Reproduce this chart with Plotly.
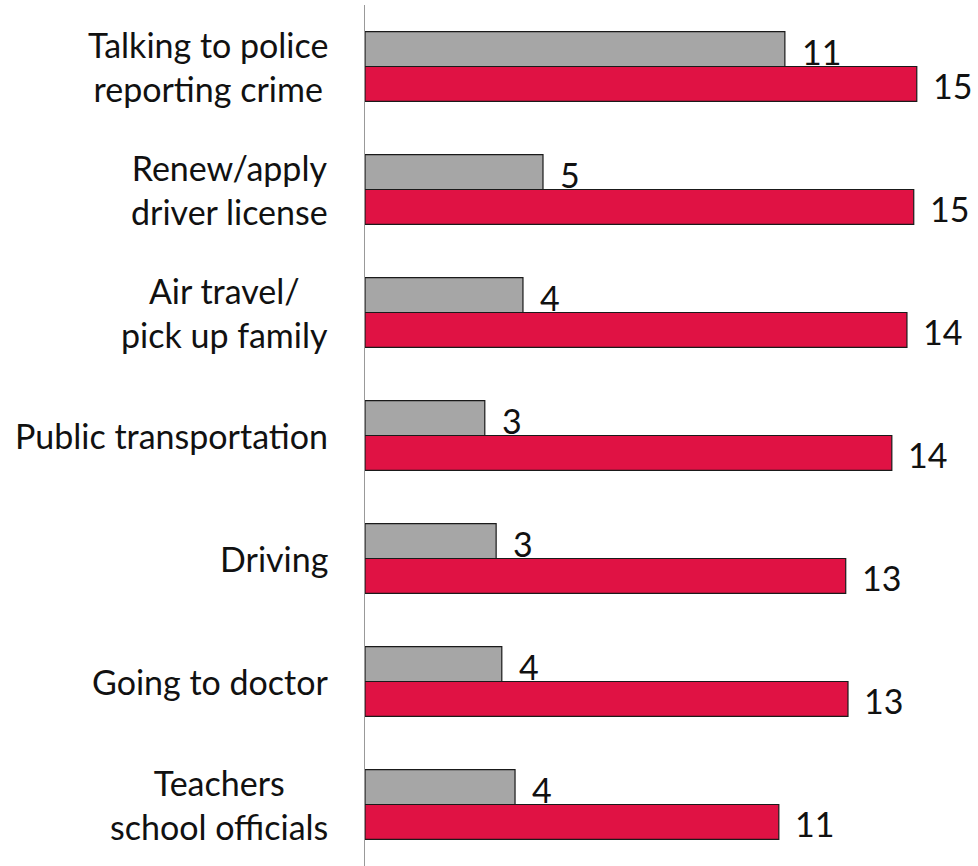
import plotly.graph_objects as go

categories = [
    "Talking to police<br>reporting crime",
    "Renew/apply<br>driver license",
    "Air travel/<br>pick up family",
    "Public transportation",
    "Driving",
    "Going to doctor",
    "Teachers<br>school officials",
]
gray_values = [11.11, 4.71, 4.18, 3.17, 3.47, 3.62, 3.97]
red_values = [14.60, 14.52, 14.34, 13.94, 12.72, 12.78, 10.95]
gray_labels = ["11", "5", "4", "3", "3", "4", "4"]
red_labels = ["15", "15", "14", "14", "13", "13", "11"]

FONT = "Lato"
GRAY = "#a6a6a6"
RED = "#e01244"

fig = go.Figure()
fig.add_trace(go.Bar(
    y=categories, x=gray_values, orientation="h", name="gray",
    marker=dict(color=GRAY, line=dict(color="#1a1a1a", width=1.2)),
))
fig.add_trace(go.Bar(
    y=categories, x=red_values, orientation="h", name="red",
    marker=dict(color=RED, line=dict(color="#1a1a1a", width=1.2)),
))

annotations = []
for cat, gv, gl, rv, rl in zip(categories, gray_values, gray_labels, red_values, red_labels):
    annotations.append(dict(x=gv, y=cat, xref="x", yref="y", text=gl, showarrow=False,
                            xanchor="left", yanchor="middle", xshift=15, yshift=15,
                            font=dict(family=FONT, size=34, color="#111")))
    annotations.append(dict(x=rv, y=cat, xref="x", yref="y", text=rl, showarrow=False,
                            xanchor="left", yanchor="middle", xshift=14, yshift=-19,
                            font=dict(family=FONT, size=34, color="#111")))
    annotations.append(dict(x=0, y=cat, xref="x", yref="y", text=cat, showarrow=False,
                            xanchor="right", yanchor="middle", align="center", xshift=-35,
                            font=dict(family=FONT, size=34, color="#111")))

fig.update_layout(
    width=978, height=866,
    margin=dict(l=365, r=0, t=5, b=0),
    paper_bgcolor="white", plot_bgcolor="white",
    barmode="group", bargap=0.432, bargroupgap=0,
    showlegend=False,
    annotations=annotations,
    xaxis=dict(range=[0, 16.22], showgrid=False, zeroline=False, showticklabels=False,
               showline=False, ticks=""),
    yaxis=dict(autorange="reversed", showgrid=False, showticklabels=False, ticks="",
               showline=True, linecolor="#999999", linewidth=1),
)

fig.write_html("out.html", config={"displayModeBar": False},
               post_script="document.body.style.margin='0';document.body.style.overflow='hidden';")
